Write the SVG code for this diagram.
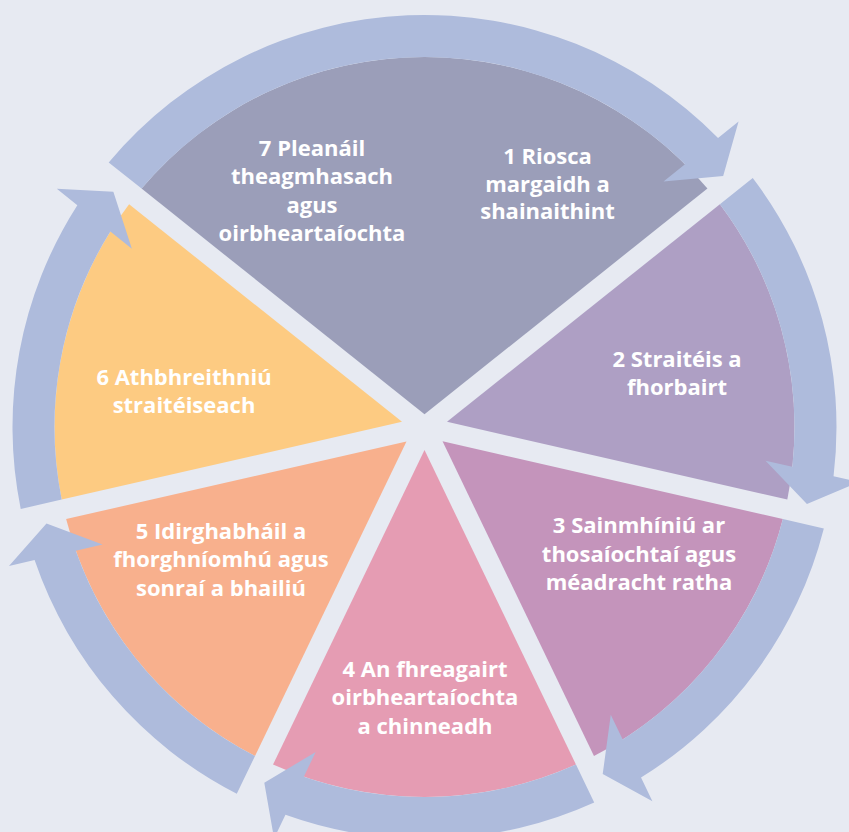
<svg xmlns="http://www.w3.org/2000/svg" width="849" height="832" viewBox="0 0 849 832">
  <style>
    .bg { fill: #E7EAF2; }
    .ring { fill: #AEBBDC; }
    .lbl { font-family: "Open Sans", "Noto Sans", "Liberation Sans", sans-serif; font-weight: 700; font-size: 22px; fill: #FFFFFF; text-anchor: middle; }
    .w71 { fill: #9B9EB9; }
    .w2 { fill: #AE9FC4; }
    .w3 { fill: #C494BB; }
    .w4 { fill: #E59CB3; }
    .w5 { fill: #F8B08D; }
    .w6 { fill: #FDCB82; }
  </style>
  <defs>
    <path id="wedge" d="M 20.78,10 L 369.86,10 A 370 370 0 0 1 238.42,282.94 Z"/>
    <path id="wedgeTop" d="M 7.97,10 L 369.86,10 A 370 370 0 0 1 -72.56,362.81 Z"/>
    <path id="arrow" d="M 264.62,-315.79 A 412 412 0 0 1 409.75,-43 L 436,-43 L 390,-10 L 340,-43 L 367.49,-43 A 370 370 0 0 0 238.42,-282.94 Z"/>
    <path id="arrowTop" d="M -81.93,-403.77 A 412 412 0 0 1 409.75,-43 L 436,-43 L 390,-10 L 340,-43 L 367.49,-43 A 370 370 0 0 0 -72.56,-362.81 Z"/>
  </defs>
  <rect class="bg" x="0" y="0" width="849" height="832"/>

  <g id="node-7-1">
    <use href="#wedgeTop" class="w71" transform="translate(424.5,427) rotate(218.571)"/>
    <text class="lbl"><tspan x="312" y="155.5">7 Pleanáil</tspan><tspan x="312" y="184">theagmhasach</tspan><tspan x="312" y="212.5">agus</tspan><tspan x="312" y="241">oirbheartaíochta</tspan></text>
    <text class="lbl"><tspan x="547.5" y="164.3">1 Riosca</tspan><tspan x="547.5" y="191.8">margaidh a</tspan><tspan x="547.5" y="219.3">shainaithint</tspan></text>
  </g>
  <g id="node-2">
    <use href="#wedge" class="w2" transform="translate(424.5,427) rotate(-38.571)"/>
    <text class="lbl"><tspan x="677" y="367">2 Straitéis a</tspan><tspan x="677" y="395">fhorbairt</tspan></text>
  </g>
  <g id="node-3">
    <use href="#wedge" class="w3" transform="translate(424.5,427) rotate(12.857)"/>
    <text class="lbl"><tspan x="639" y="533">3 Sainmhíniú ar</tspan><tspan x="639" y="561.5">thosaíochtaí agus</tspan><tspan x="639" y="590">méadracht ratha</tspan></text>
  </g>
  <g id="node-4">
    <use href="#wedge" class="w4" transform="translate(424.5,427) rotate(64.286)"/>
    <text class="lbl"><tspan x="425" y="676.5">4 An fhreagairt</tspan><tspan x="425" y="705">oirbheartaíochta</tspan><tspan x="425" y="733.5">a chinneadh</tspan></text>
  </g>
  <g id="node-5">
    <use href="#wedge" class="w5" transform="translate(424.5,427) rotate(115.714)"/>
    <text class="lbl"><tspan x="221" y="538.5">5 Idirghabháil a</tspan><tspan x="221" y="567">fhorghníomhú agus</tspan><tspan x="221" y="595.5">sonraí a bhailiú</tspan></text>
  </g>
  <g id="node-6">
    <use href="#wedge" class="w6" transform="translate(424.5,427) rotate(167.143)"/>
    <text class="lbl"><tspan x="184" y="384.7">6 Athbhreithniú</tspan><tspan x="184" y="413">straitéiseach</tspan></text>
  </g>

  <g id="connectors">
    <use href="#arrowTop" class="ring" transform="translate(424.5,427) rotate(-38.571)"/>
    <use href="#arrow" class="ring" transform="translate(424.5,427) rotate(12.857)"/>
    <use href="#arrow" class="ring" transform="translate(424.5,427) rotate(64.286)"/>
    <use href="#arrow" class="ring" transform="translate(424.5,427) rotate(115.714)"/>
    <use href="#arrow" class="ring" transform="translate(424.5,427) rotate(167.143)"/>
    <use href="#arrow" class="ring" transform="translate(424.5,427) rotate(218.571)"/>
  </g>
</svg>
